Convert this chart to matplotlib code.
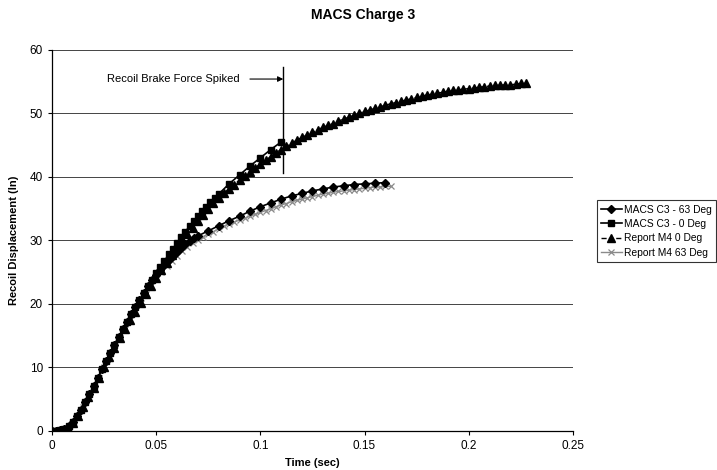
import matplotlib
matplotlib.use("Agg")
import matplotlib.pyplot as plt

plt.rcParams["font.family"] = ["Liberation Sans", "DejaVu Sans"]

# time axes (sec)
t_report = [0.0, 0.0025, 0.005, 0.0075, 0.01, 0.0125, 0.015, 0.0175, 0.02, 0.0225,
            0.025, 0.0275, 0.03, 0.0325, 0.035, 0.0375, 0.04, 0.0425, 0.045, 0.0475,
            0.05, 0.0525, 0.055, 0.0575, 0.06, 0.0625, 0.065, 0.0675, 0.07, 0.0725,
            0.075, 0.0775, 0.08, 0.0825, 0.085, 0.0875, 0.09, 0.0925, 0.095, 0.0975,
            0.1, 0.1025, 0.105, 0.1075, 0.11, 0.1125, 0.115, 0.1175, 0.12, 0.1225,
            0.125, 0.1275, 0.13, 0.1325, 0.135, 0.1375, 0.14, 0.1425, 0.145, 0.1475,
            0.15, 0.1525, 0.155, 0.1575, 0.16, 0.1625, 0.165, 0.1675, 0.17, 0.1725,
            0.175, 0.1775, 0.18, 0.1825, 0.185, 0.1875, 0.19, 0.1925, 0.195, 0.1975,
            0.2, 0.2025, 0.205, 0.2075, 0.21, 0.2125, 0.215, 0.2175, 0.22, 0.2225,
            0.225, 0.2275]

t_macs0 = [0.0, 0.002, 0.004, 0.006, 0.008, 0.01, 0.012, 0.014, 0.016, 0.018,
           0.02, 0.022, 0.024, 0.026, 0.028, 0.03, 0.032, 0.034, 0.036, 0.038,
           0.04, 0.042, 0.044, 0.046, 0.048, 0.05, 0.052, 0.054, 0.056, 0.058,
           0.06, 0.062, 0.064, 0.066, 0.068, 0.07, 0.072, 0.074, 0.076, 0.078,
           0.08, 0.085, 0.09, 0.095, 0.1, 0.105, 0.11]

t_macs63 = [0.0, 0.002, 0.004, 0.006, 0.008, 0.01, 0.012, 0.014, 0.016, 0.018,
            0.02, 0.022, 0.024, 0.026, 0.028, 0.03, 0.032, 0.034, 0.036, 0.038,
            0.04, 0.042, 0.044, 0.046, 0.048, 0.05, 0.052, 0.054, 0.056, 0.058,
            0.06, 0.062, 0.064, 0.066, 0.068, 0.07,
            0.075, 0.08, 0.085, 0.09, 0.095, 0.1, 0.105, 0.11, 0.115, 0.12,
            0.125, 0.13, 0.135, 0.14, 0.145, 0.15, 0.155, 0.16]

# recoil displacement (in)
macs_63 = [0.0, 0.0, 0.1, 0.3, 0.8, 1.4, 2.3, 3.3, 4.5, 5.8,
           7.1, 8.4, 9.7, 11.0, 12.3, 13.6, 14.8, 16.0, 17.2, 18.4,
           19.5, 20.6, 21.7, 22.8, 23.7, 24.6, 25.4, 26.2, 26.9, 27.6,
           28.2, 28.8, 29.4, 29.9, 30.3, 30.7,
           31.5, 32.3, 33.1, 33.8, 34.6, 35.3, 35.9, 36.5, 37.0, 37.4,
           37.8, 38.1, 38.4, 38.6, 38.8, 38.9, 39.0, 39.1]

macs_0 = [0.0, 0.0, 0.1, 0.3, 0.8, 1.4, 2.3, 3.3, 4.5, 5.8,
          7.1, 8.4, 9.7, 11.0, 12.3, 13.6, 14.8, 16.0, 17.2, 18.4,
          19.5, 20.6, 21.7, 22.8, 23.8, 24.8, 25.8, 26.8, 27.8, 28.7,
          29.6, 30.5, 31.4, 32.2, 33.0, 33.8, 34.6, 35.3, 36.0, 36.7,
          37.3, 38.9, 40.3, 41.7, 43.0, 44.3, 45.5]

m4_0 = [0.0, 0.0, 0.1, 0.5, 1.3, 2.4, 3.8, 5.3, 6.8, 8.4,
        10.0, 11.6, 13.1, 14.6, 16.0, 17.4, 18.8, 20.2, 21.5, 22.8,
        24.1, 25.3, 26.5, 27.7, 28.9, 30.0, 31.0, 32.0, 33.0, 34.0,
        35.0, 35.9, 36.7, 37.4, 38.1, 38.8, 39.5, 40.2, 40.8, 41.4,
        42.0, 42.6, 43.2, 43.8, 44.3, 44.8, 45.3, 45.8, 46.2, 46.6,
        47.0, 47.4, 47.8, 48.1, 48.4, 48.8, 49.1, 49.4, 49.7, 50.0,
        50.3, 50.5, 50.8, 51.0, 51.3, 51.5, 51.7, 51.9, 52.1, 52.3,
        52.5, 52.7, 52.9, 53.0, 53.2, 53.3, 53.5, 53.6, 53.7, 53.8,
        53.9, 54.0, 54.1, 54.2, 54.3, 54.4, 54.4, 54.5, 54.5, 54.6,
        54.7, 54.7]

m4_63 = [0.0, 0.0, 0.1, 0.5, 1.3, 2.4, 3.8, 5.3, 6.8, 8.4,
         10.0, 11.6, 13.1, 14.6, 16.0, 17.4, 18.8, 20.2, 21.5, 22.8,
         24.0, 25.0, 25.9, 26.8, 27.6, 28.3, 29.0, 29.6, 30.1, 30.6,
         31.0, 31.4, 31.8, 32.2, 32.6, 32.9, 33.2, 33.5, 33.8, 34.1,
         34.4, 34.7, 35.0, 35.3, 35.6, 35.8, 36.1, 36.3, 36.5, 36.7,
         36.9, 37.1, 37.3, 37.4, 37.6, 37.7, 37.8, 37.9, 38.0, 38.1,
         38.2, 38.3, 38.4, 38.4, 38.5, 38.5]

x_ticks = [0, 0.05, 0.1, 0.15, 0.2, 0.25]
x_labels = ["0", "0.05", "0.1", "0.15", "0.2", "0.25"]

spike_t = 0.111
spike_y = (40.6, 57.3)

fig = plt.figure(figsize=(7.17, 4.70), dpi=100)
ax = fig.add_axes([0.0725, 0.083, 0.7265, 0.811])

ax.plot(t_report[:len(m4_63)], m4_63, "-", color="#8a8a8a", lw=1.0, marker="x",
        ms=4.5, mew=0.9, label="Report M4 63 Deg", zorder=3)
ax.plot(t_report, m4_0, "--", color="black", lw=1.0, marker="^", ms=5.5,
        label="Report M4 0 Deg", zorder=4)
ax.plot(t_macs0, macs_0, "-", color="black", lw=1.2, marker="s", ms=5,
        label="MACS C3 - 0 Deg", zorder=5)
ax.plot(t_macs63, macs_63, "-", color="black", lw=1.2, marker="D", ms=4.5,
        label="MACS C3 - 63 Deg", zorder=5)

# recoil brake force spike marker
ax.plot([spike_t, spike_t], spike_y, color="black", lw=1.0, zorder=6)
ax.annotate("", xy=(spike_t, 55.4), xytext=(0.095, 55.4),
            arrowprops=dict(arrowstyle="-|>", color="black", lw=0.8,
                            mutation_scale=8, shrinkA=0, shrinkB=0))
ax.text(0.0265, 55.4, "Recoil Brake Force Spiked", fontsize=8, va="center")

ax.set_xlim(0, 0.25)
ax.set_ylim(0, 60)
ax.set_xticks(x_ticks)
ax.set_xticklabels(x_labels)
ax.set_yticks(range(0, 61, 10))
ax.tick_params(labelsize=8.5, length=3, direction="out", width=0.8)
ax.yaxis.grid(True, color="#444444", lw=0.7)
ax.set_axisbelow(True)
for s in ("top", "right"):
    ax.spines[s].set_visible(False)
ax.spines["left"].set_linewidth(0.9)
ax.spines["bottom"].set_linewidth(0.9)

ax.set_xlabel("Time (sec)", fontsize=8, fontweight="bold", labelpad=4)
ax.set_ylabel("Recoil Displacement (In)", fontsize=8, fontweight="bold", labelpad=8)
fig.text(0.507, 0.968, "MACS Charge 3", fontsize=10, fontweight="bold",
         ha="center", va="center")

h, l = ax.get_legend_handles_labels()
order = [3, 2, 1, 0]
leg = fig.legend([h[i] for i in order], [l[i] for i in order], loc="upper left",
                 bbox_to_anchor=(0.832, 0.5745), bbox_transform=fig.transFigure,
                 fontsize=7.4, frameon=True, fancybox=False, edgecolor="black",
                 handlelength=2.0, handletextpad=0.2, labelspacing=0.42,
                 borderpad=0.45, borderaxespad=0)
leg.get_frame().set_linewidth(0.8)

fig.savefig("out.png", dpi=100)
